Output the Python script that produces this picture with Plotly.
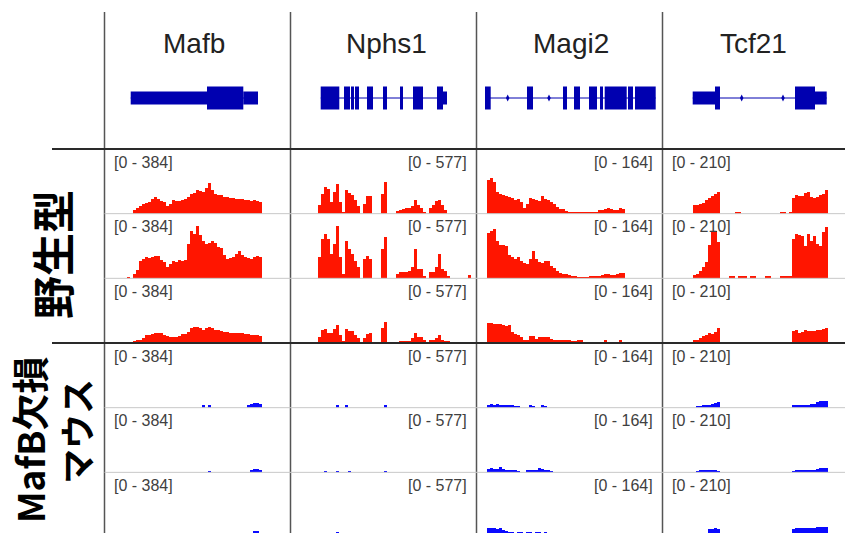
import plotly.graph_objects as go

# ---------------- data ----------------
genes = ["Mafb", "Nphs1", "Magi2", "Tcf21"]
data_max = [384, 577, 164, 210]
group_label_wt = "<b>野生型</b>"
group_label_ko = ["<b>MafB欠損</b>", "<b>マウス</b>"]

# coverage bins (locus units inside each gene window, bin width 3)
bin_start = [22, 27, 10, 30]
BIN = 3

mafb_wt1 = [0, 0, 24, 35, 47, 59, 65, 71, 89, 100, 89, 77, 71, 47, 59, 83, 77, 77, 83, 89, 100, 118, 124, 142,
            136, 130, 153, 183, 142, 118, 112, 112, 100, 100, 94, 94, 89, 89, 89, 83, 83, 77, 83, 77, 71]
mafb_wt2 = [12, 0, 30, 53, 106, 118, 130, 124, 130, 136, 136, 112, 100, 71, 89, 106, 100, 112, 106, 112, 207, 283,
            266, 313, 260, 224, 207, 212, 224, 212, 189, 183, 142, 118, 124, 130, 148, 165, 142, 130, 124, 118,
            130, 136, 130]
mafb_wt3 = [0, 0, 12, 18, 18, 30, 47, 47, 53, 59, 59, 59, 47, 41, 35, 35, 35, 41, 53, 53, 65, 89, 94, 94, 89, 77,
            89, 94, 89, 77, 77, 71, 65, 65, 59, 59, 59, 59, 59, 53, 53, 47, 47, 47, 41]
mafb_ko1 = [0, 0, 0, 0, 0, 0, 0, 0, 0, 0, 0, 0, 0, 0, 0, 0, 0, 0, 0, 0, 0, 0, 0, 0, 0, 15, 0, 15, 0, 0,
            0, 0, 0, 0, 0, 0, 0, 0, 0, 0, 18, 24, 30, 30, 24]
mafb_ko2 = [0, 0, 0, 0, 0, 0, 0, 0, 0, 0, 0, 0, 0, 0, 0, 0, 0, 0, 0, 0, 0, 0, 0, 0, 0, 0, 0, 12, 0, 0,
            0, 0, 0, 0, 0, 0, 0, 0, 0, 0, 0, 15, 20, 20, 15]
mafb_ko3 = [0, 0, 0, 0, 0, 0, 0, 0, 0, 0, 0, 0, 0, 0, 0, 0, 0, 0, 0, 0, 0, 0, 0, 0, 0, 0, 0, 0, 0, 0,
            0, 0, 0, 0, 0, 0, 0, 0, 0, 0, 0, 0, 35, 35, 0]

nphs1_wt1 = [80, 178, 240, 222, 107, 195, 266, 107, 18, 213, 186, 169, 124, 71, 0, 89, 160, 160, 0, 0, 0, 178, 284,
             0, 0, 0, 27, 36, 44, 53, 53, 71, 124, 80, 53, 18, 0, 53, 80, 115, 124, 80, 36]
nphs1_wt2 = [195, 355, 400, 355, 222, 311, 470, 195, 44, 337, 266, 222, 160, 107, 0, 178, 204, 178, 0, 0, 0, 266,
             373, 0, 0, 0, 44, 62, 62, 62, 71, 107, 266, 89, 89, 27, 0, 62, 62, 107, 222, 89, 71, 27,
             0, 0, 0, 0, 0, 0, 36]
nphs1_wt3 = [53, 115, 124, 89, 89, 124, 160, 71, 9, 124, 107, 107, 71, 44, 0, 44, 80, 89, 0, 0, 0, 133, 186,
             0, 0, 0, 0, 18, 18, 18, 18, 44, 89, 53, 53, 27, 0, 27, 27, 44, 71, 27, 18, 9]
nphs1_ko1 = [0, 0, 0, 0, 0, 0, 22, 0, 0, 22, 0, 0, 0, 0, 0, 0, 0, 0, 0, 0, 0, 0, 22]
nphs1_ko2 = [0, 0, 18, 0, 0, 0, 18, 0, 0, 0, 18, 0, 0, 0, 0, 0, 0, 0, 0, 0, 0, 0, 18]
nphs1_ko3 = [0, 0, 0, 0, 0, 0, 45]

magi2_wt1 = [86, 91, 81, 55, 50, 48, 45, 43, 40, 35, 38, 30, 15, 25, 40, 38, 35, 33, 45, 38, 35, 30, 25, 18, 13,
             13, 8, 3, 3, 3, 3, 3, 3, 3, 3, 3, 5, 10, 10, 13, 15, 13, 10, 10, 15, 13]
magi2_wt2 = [116, 121, 126, 96, 86, 86, 83, 60, 55, 50, 55, 45, 40, 38, 50, 71, 50, 43, 40, 45, 45, 33, 28, 20,
             15, 13, 13, 10, 8, 8, 5, 5, 5, 5, 8, 8, 8, 8, 10, 13, 13, 10, 10, 13, 15, 15]
magi2_wt3 = [50, 50, 48, 48, 48, 45, 43, 45, 28, 23, 20, 15, 8, 8, 18, 18, 10, 15, 15, 15, 15, 10, 8, 8, 8, 8,
             8, 8, 5, 5, 8, 8, 0, 0, 0, 0, 0, 0, 0, 8, 0, 0, 0, 0, 8, 0]
magi2_ko1 = [8, 10, 8, 10, 8, 8, 8, 8, 8, 5, 5, 0, 0, 0, 8, 5, 0, 0, 8, 5]
magi2_ko2 = [10, 13, 10, 10, 15, 10, 8, 8, 8, 8, 3, 0, 0, 8, 8, 8, 8, 13, 10, 8, 8, 5]
magi2_ko3 = [21, 23, 21, 19, 21, 17, 15, 13, 13, 0, 13, 13, 0, 13, 13, 0, 13, 13, 0, 13]

tcf21_wt1 = [29, 29, 32, 36, 45, 52, 58, 65, 71, 0, 0, 0, 0, 0, 3, 3, 0, 0, 0, 0, 0, 0, 0, 0, 0, 0, 0, 0, 0,
             3, 3, 0, 3, 52, 61, 58, 58, 68, 71, 55, 52, 55, 61, 65, 78]
tcf21_wt2 = [13, 16, 26, 39, 55, 110, 150, 155, 120, 0, 0, 0, 10, 10, 0, 10, 10, 10, 0, 10, 10, 0, 0, 0, 10, 10,
             0, 0, 0, 10, 10, 10, 10, 129, 145, 142, 139, 107, 145, 123, 139, 113, 107, 152, 168]
tcf21_wt3 = [10, 10, 16, 23, 26, 32, 29, 36, 48, 0, 0, 0, 0, 0, 0, 0, 0, 0, 0, 0, 0, 0, 0, 0, 0, 0, 0, 0, 0,
             0, 0, 0, 0, 39, 42, 32, 36, 42, 39, 39, 39, 42, 42, 45, 48]
tcf21_ko1 = [0, 6, 6, 10, 10, 10, 13, 16, 19, 0, 0, 0, 0, 0, 0, 0, 0, 0, 0, 0, 0, 0, 0, 0, 0, 0, 0, 0, 0,
             0, 0, 0, 0, 10, 10, 10, 10, 10, 10, 13, 13, 19, 23, 23, 23]
tcf21_ko2 = [0, 6, 10, 10, 10, 10, 10, 10, 6, 0, 0, 0, 0, 0, 0, 0, 0, 0, 0, 0, 0, 0, 0, 0, 0, 0, 0, 0, 0,
             0, 0, 0, 0, 6, 10, 10, 10, 10, 10, 10, 10, 13, 16, 16, 16]
tcf21_ko3 = [0, 0, 0, 0, 0, 24, 26, 28, 24, 0, 0, 0, 0, 0, 0, 0, 0, 0, 0, 0, 0, 0, 0, 0, 0, 0, 0, 0, 0,
             0, 0, 0, 0, 26, 28, 28, 28, 28, 28, 28, 28, 30, 32, 32, 32]

coverage = [
    [mafb_wt1, mafb_wt2, mafb_wt3, mafb_ko1, mafb_ko2, mafb_ko3],
    [nphs1_wt1, nphs1_wt2, nphs1_wt3, nphs1_ko1, nphs1_ko2, nphs1_ko3],
    [magi2_wt1, magi2_wt2, magi2_wt3, magi2_ko1, magi2_ko2, magi2_ko3],
    [tcf21_wt1, tcf21_wt2, tcf21_wt3, tcf21_ko1, tcf21_ko2, tcf21_ko3],
]
is_wildtype = [True, True, True, False, False, False]

# gene models (locus units), cds: 1 = coding block (tall), 0 = UTR (short)
mafb_exon_start = [26.2, 102.5, 138.8]
mafb_exon_end = [102.5, 138.8, 153.5]
mafb_exon_cds = [0, 1, 0]
nphs1_exon_start = [30.2, 53.5, 60.5, 64.5, 76.5, 92.5, 109.5, 122.5, 146.5, 152.5]
nphs1_exon_end = [48.8, 59.5, 63.5, 68.5, 82.5, 96.5, 112.5, 132.5, 152.5, 156.5]
nphs1_exon_cds = [1, 1, 1, 1, 1, 1, 1, 1, 1, 0]
magi2_exon_start = [8.5, 50.5, 86.5, 97.5, 112.5, 123.5, 128.2, 151.5, 158.5]
magi2_exon_end = [14.2, 56.5, 90.5, 103.5, 120.5, 126.5, 150.2, 156.5, 179.2]
magi2_exon_cds = [1, 1, 1, 1, 1, 1, 1, 1, 1]
tcf21_exon_start = [30.2, 52.5, 132.5, 152.5]
tcf21_exon_end = [52.5, 57.5, 152.5, 164.2]
tcf21_exon_cds = [0, 1, 1, 0]
exon_starts = [mafb_exon_start, nphs1_exon_start, magi2_exon_start, tcf21_exon_start]
exon_ends = [mafb_exon_end, nphs1_exon_end, magi2_exon_end, tcf21_exon_end]
exon_cds = [mafb_exon_cds, nphs1_exon_cds, magi2_exon_cds, tcf21_exon_cds]
strand_marks = [[], [], [31.2, 72.5], [79.2, 120.5]]

# ---------------- style / geometry ----------------
W, H = 845, 533


def px(x):
    return x / W


def py(y):
    return 1 - y / H


RED = "#ff1500"
BLUE = "#0a0aff"
GENE_COLOR = "#0000b0"
COL_LEFT0, COL_W = 104.5, 186
TRACK_TOP0, TRACK_H = 149, 64.67
GENE_TOP, GENE_BOT = 60, 136
title_center = [194, 386, 571, 753]
label_side = ["left", "right", "right", "left"]
FONT = "Liberation Sans, Arial, sans-serif"
CJK = "Noto Sans CJK JP, Noto Sans CJK SC, sans-serif"

fig = go.Figure()
layout = dict(width=W, height=H, autosize=False, margin=dict(l=0, r=0, t=0, b=0, pad=0),
              paper_bgcolor="white", plot_bgcolor="rgba(0,0,0,0)", showlegend=False,
              font=dict(family=FONT), bargap=0)
annotations = []
shapes = []


def ax_name(prefix, n):
    return prefix if n == 1 else f"{prefix}{n}"


for c in range(4):
    left = COL_LEFT0 + COL_W * c
    right = min(left + COL_W, W)
    layout[ax_name("xaxis", c + 1)] = dict(domain=[px(left), px(right)], range=[0, right - left],
                                           visible=False, fixedrange=True)
    for r in range(6):
        n = 1 + r * 4 + c
        top = TRACK_TOP0 + r * TRACK_H
        bot = top + TRACK_H
        vis_bot = min(bot, H)
        lo = (bot - vis_bot) / TRACK_H * data_max[c]
        layout[ax_name("yaxis", n)] = dict(domain=[py(vis_bot), py(top)], range=[lo, data_max[c]],
                                           visible=False, fixedrange=True, anchor=ax_name("x", c + 1))
        vals = coverage[c][r]
        xs = [bin_start[c] + BIN * i + BIN / 2 for i in range(len(vals))]
        fig.add_trace(go.Bar(x=xs, y=vals, width=BIN, marker=dict(color=RED if is_wildtype[r] else BLUE,
                                                                   line=dict(width=0)),
                             xaxis=ax_name("x", c + 1), yaxis=ax_name("y", n), hoverinfo="skip"))
        # data range label
        if label_side[c] == "left":
            ax_x, anchor = px(left + 7.5), "left"
        else:
            ax_x, anchor = px(left + COL_W - 7.5), "right"
        annotations.append(dict(text=f"[0 - {data_max[c]}]", x=ax_x, xanchor=anchor, xref="paper",
                                y=py(top + 13), yanchor="middle", yref="paper", showarrow=False,
                                font=dict(size=16, color="#404040", family=FONT)))
    # gene title
    annotations.append(dict(text=genes[c], x=px(title_center[c]), xref="paper", xanchor="center",
                            y=py(43), yref="paper", yanchor="middle", showarrow=False,
                            font=dict(size=28, color="#222222", family=FONT)))

# gene model axis
layout["yaxis25"] = dict(domain=[py(GENE_BOT), py(GENE_TOP)], range=[-1, 1], visible=False,
                         fixedrange=True, anchor="x")
for c in range(4):
    xr = ax_name("x", c + 1)
    shapes.append(dict(type="line", xref=xr, yref="y25", x0=min(exon_starts[c]), x1=max(exon_ends[c]),
                       y0=0, y1=0, line=dict(color=GENE_COLOR, width=1)))
    for s, e, cds in zip(exon_starts[c], exon_ends[c], exon_cds[c]):
        half = 0.30 if cds else 0.17
        shapes.append(dict(type="rect", xref=xr, yref="y25", x0=s, x1=e, y0=-half, y1=half,
                           fillcolor=GENE_COLOR, line=dict(width=0)))
    if strand_marks[c]:
        fig.add_trace(go.Scatter(x=strand_marks[c], y=[0] * len(strand_marks[c]), mode="markers",
                                 marker=dict(symbol="diamond-tall", size=5, color=GENE_COLOR),
                                 xaxis=xr, yaxis="y25", hoverinfo="skip"))

# grid lines
for c in range(4):
    x = px(COL_LEFT0 + COL_W * c)
    shapes.append(dict(type="line", xref="paper", yref="paper", x0=x, x1=x, y0=0, y1=py(12),
                       line=dict(color="#555555", width=1.5)))
for r in [1, 2, 4, 5]:
    y = py(TRACK_TOP0 + r * TRACK_H)
    shapes.append(dict(type="line", xref="paper", yref="paper", x0=px(COL_LEFT0), x1=1, y0=y, y1=y,
                       line=dict(color="#c8c8c8", width=1)))
for r in [0, 3]:
    y = py(TRACK_TOP0 + r * TRACK_H)
    shapes.append(dict(type="line", xref="paper", yref="paper", x0=px(52), x1=1, y0=y, y1=y,
                       line=dict(color="#2a2a2a", width=2)))

# group labels
annotations.append(dict(text=group_label_wt, x=px(51), y=py(255), xref="paper", yref="paper",
                        textangle=-90, showarrow=False, xanchor="center", yanchor="middle",
                        font=dict(size=43, color="black", family=CJK)))
annotations.append(dict(text=group_label_ko[0], x=px(29), y=py(440), xref="paper", yref="paper",
                        textangle=-90, showarrow=False, xanchor="center", yanchor="middle",
                        font=dict(size=37, color="black", family=CJK)))
annotations.append(dict(text=group_label_ko[1], x=px(75), y=py(432), xref="paper", yref="paper",
                        textangle=-90, showarrow=False, xanchor="center", yanchor="middle",
                        font=dict(size=35, color="black", family=CJK)))

layout["annotations"] = annotations
layout["shapes"] = shapes
fig.update_layout(**layout)
fig.write_html("out.html", config={"displayModeBar": False},
               post_script="document.body.style.margin='0';document.body.style.overflow='hidden';")
